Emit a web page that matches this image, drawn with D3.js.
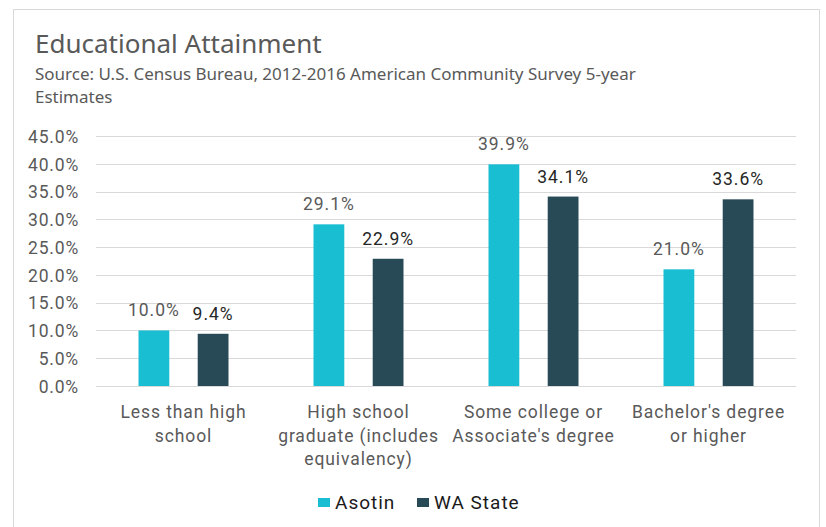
<!DOCTYPE html>
<html>
<head>
<meta charset="utf-8">
<script src="https://cdn.jsdelivr.net/npm/d3@7"></script>
<style>
  body { margin: 0; background: #fff; }
  svg { display: block; }
</style>
</head>
<body>
<div id="chart"></div>
<script>
const categories = [
  ['Less than high', 'school'],
  ['High school', 'graduate (includes', 'equivalency)'],
  ['Some college or', "Associate's degree"],
  ["Bachelor's degree", 'or higher']
];
const seriesNames = ['Asotin', 'WA State'];
const asotin = [10.0, 29.1, 39.9, 21.0];
const waState = [9.4, 22.9, 34.1, 33.6];
const yTicks = [0, 5, 10, 15, 20, 25, 30, 35, 40, 45];

const width = 826, height = 527;
const colors = ['#1abed3', '#284a56'];
const labelColors = ['#595959', '#262626'];

const svg = d3.select('#chart')
  .append('svg')
  .attr('width', width)
  .attr('height', height);

// outer frame
svg.append('rect')
  .attr('x', 13.5).attr('y', 9.5)
  .attr('width', 806).attr('height', 530)
  .attr('fill', '#fff')
  .attr('stroke', '#d9d9d9');

svg.append('text')
  .attr('x', 35).attr('y', 53)
  .attr('font-family', 'Noto Sans, sans-serif')
  .attr('font-size', 26)
  .attr('fill', '#595959')
  .text('Educational Attainment');

svg.append('text')
  .attr('x', 35).attr('y', 80)
  .attr('font-family', 'Noto Sans, sans-serif')
  .attr('font-size', 17)
  .attr('fill', '#595959')
  .text('Source: U.S. Census Bureau, 2012-2016 American Community Survey 5-year');

svg.append('text')
  .attr('x', 35).attr('y', 102.5)
  .attr('font-family', 'Noto Sans, sans-serif')
  .attr('font-size', 17)
  .attr('fill', '#595959')
  .text('Estimates');

const x0 = d3.scaleBand()
  .domain(d3.range(categories.length))
  .range([96, 796]);

const x1 = d3.scaleBand()
  .domain(d3.range(seriesNames.length))
  .range([0, 90])
  .paddingInner(0.48);

const y = d3.scaleLinear()
  .domain([0, 45])
  .range([386, 136]);

// gridlines
svg.append('g')
  .selectAll('line')
  .data(yTicks)
  .enter()
  .append('line')
  .attr('x1', 96).attr('x2', 796)
  .attr('y1', d => Math.round(y(d)) + 0.5).attr('y2', d => Math.round(y(d)) + 0.5)
  .attr('stroke', '#d9d9d9')
  .attr('stroke-width', 1);

const yAxis = svg.append('g')
  .attr('transform', 'translate(96,0)')
  .call(d3.axisLeft(y).tickValues(yTicks).tickSize(0).tickPadding(17)
    .tickFormat(d => d.toFixed(1) + '%'));
yAxis.select('.domain').remove();
yAxis.selectAll('text')
  .attr('font-family', 'Roboto, sans-serif')
  .attr('font-size', 17.5)
  .attr('letter-spacing', 0.8)
  .attr('fill', '#595959')
  .attr('dy', '0.36em');

const data = [asotin, waState];

const groups = svg.append('g')
  .selectAll('g')
  .data(categories)
  .enter()
  .append('g')
  .attr('transform', (d, i) => `translate(${x0(i) + (x0.bandwidth() - 90) / 2},0)`);

groups.selectAll('rect')
  .data((d, i) => data.map((s, k) => ({ k, v: s[i] })))
  .enter()
  .append('rect')
  .attr('x', d => x1(d.k))
  .attr('width', x1.bandwidth())
  .attr('y', d => y(d.v))
  .attr('height', d => y(0) - y(d.v))
  .attr('fill', d => colors[d.k]);

groups.selectAll('text.val')
  .data((d, i) => data.map((s, k) => ({ k, v: s[i] })))
  .enter()
  .append('text')
  .attr('class', 'val')
  .attr('x', d => x1(d.k) + x1.bandwidth() / 2)
  .attr('y', d => y(d.v) - 14)
  .attr('text-anchor', 'middle')
  .attr('font-family', 'Roboto, sans-serif')
  .attr('font-size', 17.5)
  .attr('letter-spacing', 1)
  .attr('fill', d => labelColors[d.k])
  .text(d => d.v.toFixed(1) + '%');

// category labels
svg.append('g')
  .selectAll('text')
  .data(categories)
  .enter()
  .append('text')
  .attr('x', (d, i) => x0(i) + x0.bandwidth() / 2)
  .attr('y', 418)
  .attr('text-anchor', 'middle')
  .attr('font-family', 'Roboto, sans-serif')
  .attr('font-size', 17.5)
  .attr('letter-spacing', 0.9)
  .attr('fill', '#595959')
  .selectAll('tspan')
  .data(d => d)
  .enter()
  .append('tspan')
  .attr('x', function () { return d3.select(this.parentNode).attr('x'); })
  .attr('dy', (d, i) => i === 0 ? 0 : 23.5)
  .text(d => d);

// legend
const legendX = [318, 417];
const legend = svg.append('g')
  .selectAll('g')
  .data(seriesNames)
  .enter()
  .append('g')
  .attr('transform', (d, i) => `translate(${legendX[i]},0)`);
legend.append('rect')
  .attr('x', 0).attr('y', 498)
  .attr('width', 12).attr('height', 9)
  .attr('fill', (d, i) => colors[i]);
legend.append('text')
  .attr('x', 17).attr('y', 508.5)
  .attr('font-family', 'Roboto, sans-serif')
  .attr('font-size', 19)
  .attr('letter-spacing', 1)
  .attr('fill', '#1a1a1a')
  .text(d => d);
</script>
</body>
</html>
